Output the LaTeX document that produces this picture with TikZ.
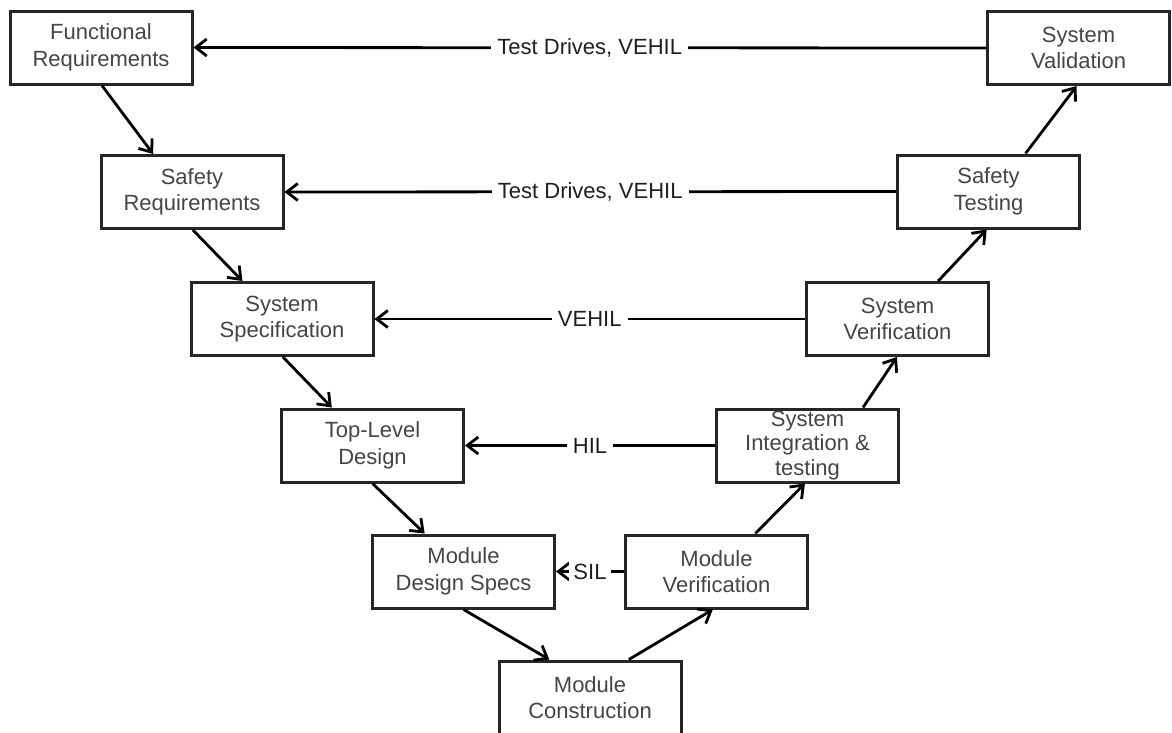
\documentclass[tikz,border=0pt]{standalone}
\usepackage{fontspec}
\setmainfont{Liberation Sans}
\usetikzlibrary{arrows.meta,calc}

\definecolor{boxtext}{gray}{0.27}
\definecolor{lbltext}{gray}{0.12}

\tikzset{
  stage/.style={draw=black!85, line width=3pt, fill=white,
    minimum width=182pt, minimum height=73pt, inner sep=0pt,
    align=center, text=boxtext,
    font=\fontsize{22pt}{26.5pt}\selectfont},
  flow/.style={line width=2.8pt, draw=black,
    -{Straight Barb[length=11pt,width=17pt,line width=2.8pt]}},
  back/.style={flow},
  testlbl/.style={fill=white, inner xsep=6pt, inner ysep=2pt, text=lbltext,
    font=\fontsize{22pt}{26pt}\selectfont}
}

\begin{document}
\begin{tikzpicture}[x=1pt,y=-1pt]
  \useasboundingbox (0,0) rectangle (1172,732);
  \fill[white] (0,0) rectangle (1172,732);
  \clip (0,0) rectangle (1172,732);

  % left branch of the V
  \node[stage] (fr)   at (101,47.5)   {Functional\\Requirements};
  \node[stage] (sr)   at (192,192)    {Safety\\Requirements};
  \node[stage] (ss)   at (282,319)    {System\\Specification};
  \node[stage] (tld)  at (372.5,445.5){Top-Level\\Design};
  \node[stage] (mds)  at (463.5,571.5){Module\\Design Specs};
  % bottom
  \node[stage] (mc)   at (590,697.5)  {Module\\Construction};
  % right branch of the V
  \node[stage] (mv)   at (716.5,571.5){Module\\Verification};
  \node[stage,font=\fontsize{22pt}{24.5pt}\selectfont] (si) at (807.5,445.5)
       {System\\Integration \&\\testing};
  \node[stage] (sver) at (897.5,319)  {System\\Verification};
  \node[stage] (st)   at (988.5,191.5){Safety\\Testing};
  \node[stage] (sv)   at (1078.5,48)  {System\\Validation};

  % descending branch
  \draw[flow] ($(fr.south west)!0.505!(fr.south east)$)  -- ($(sr.north west)!0.29!(sr.north east)$);
  \draw[flow] ($(sr.south west)!0.505!(sr.south east)$)  -- ($(ss.north west)!0.286!(ss.north east)$);
  \draw[flow] ($(ss.south west)!0.505!(ss.south east)$)  -- ($(tld.north west)!0.28!(tld.north east)$);
  \draw[flow] ($(tld.south west)!0.5!(tld.south east)$)  -- ($(mds.north west)!0.29!(mds.north east)$);
  \draw[flow] ($(mds.south west)!0.5!(mds.south east)$)  -- ($(mc.north west)!0.28!(mc.north east)$);

  % ascending branch
  \draw[flow] ($(mc.north west)!0.71!(mc.north east)$)   -- ($(mv.south west)!0.48!(mv.south east)$);
  \draw[flow] ($(mv.north west)!0.71!(mv.north east)$)   -- ($(si.south west)!0.486!(si.south east)$);
  \draw[flow] ($(si.north west)!0.80!(si.north east)$)   -- ($(sver.south west)!0.497!(sver.south east)$);
  \draw[flow] ($(sver.north west)!0.72!(sver.north east)$) -- ($(st.south west)!0.49!(st.south east)$);
  \draw[flow] ($(st.north west)!0.70!(st.north east)$)   -- ($(sv.south west)!0.49!(sv.south east)$);

  % test methods linking each level
  \draw[back] (sv.west)   -- node[testlbl] {Test Drives, VEHIL} (fr.east);
  \draw[back] (st.west)   -- node[testlbl] {Test Drives, VEHIL} (sr.east);
  \draw[back] (sver.west) -- node[testlbl] {VEHIL} (ss.east);
  \draw[back] (si.west)   -- node[testlbl] {HIL} (tld.east);
  \draw[back] (mv.west)   -- node[testlbl,inner xsep=4pt] {SIL} (mds.east);
\end{tikzpicture}
\end{document}
